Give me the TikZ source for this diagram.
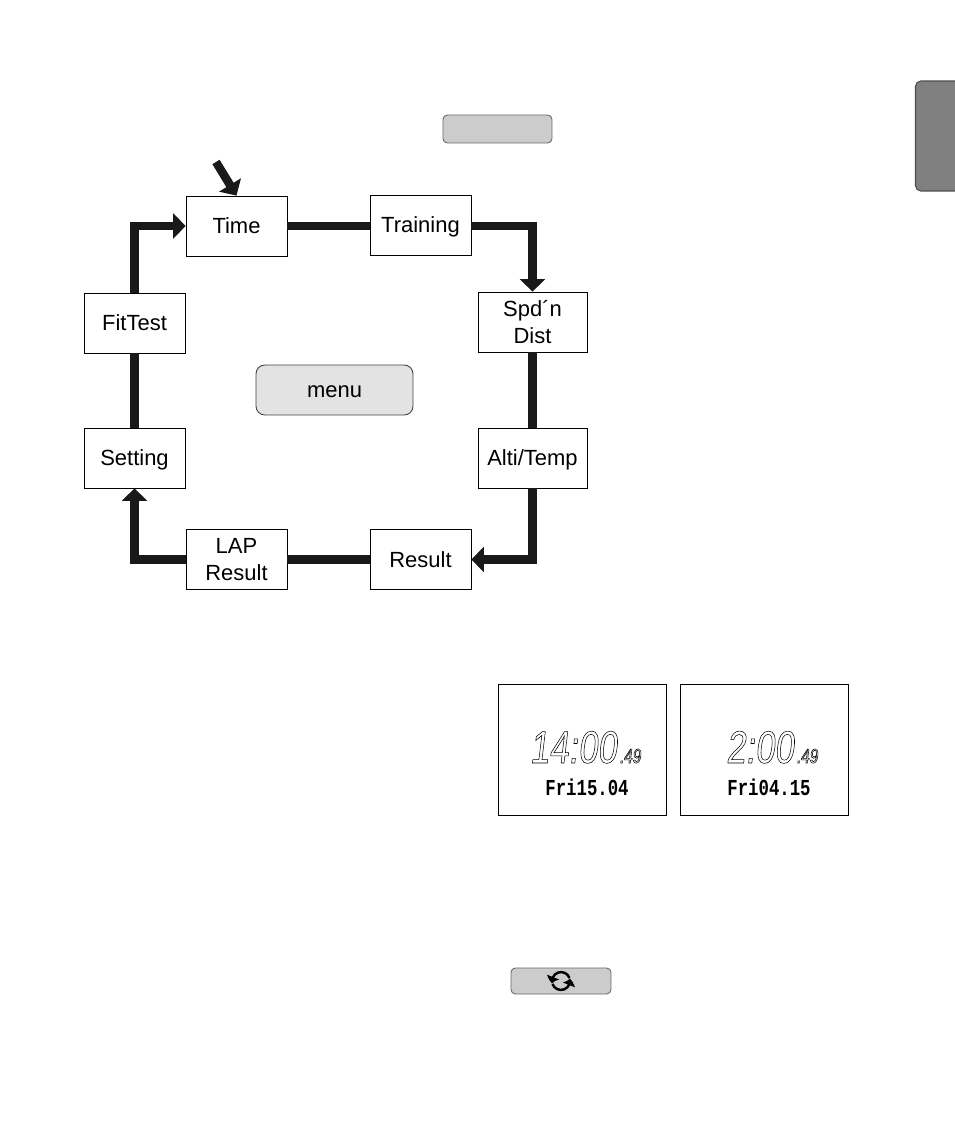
\documentclass[tikz,border=0pt]{standalone}
\usepackage{fontspec}
\setmainfont{Liberation Sans}
\newfontfamily\lcdbigfont[FakeStretch=.76,FakeSlant=.12]{Liberation Sans}
\newfontfamily\lcddotfont[FakeStretch=.76]{Liberation Mono}
\newcommand{\lcdoutline}[1]{\special{pdf:code q 1 Tr 0.3 w}#1\special{pdf:code Q}}
\usetikzlibrary{arrows.meta,positioning,calc,bending}
\definecolor{wcbarcol}{gray}{0.10}
\definecolor{wcbuttoncol}{gray}{0.80}
\definecolor{wcmenucol}{gray}{0.89}
\definecolor{wctabcol}{gray}{0.50}
\tikzset{
wcbox/.style={rectangle,draw,fill=white,line width=0.45pt,align=center,inner sep=0pt,minimum width=2.02cm,minimum height=1.20cm,font=\fontsize{12.5}{15}\selectfont,text height=9pt,text depth=0pt},
wctwo/.style={text height=,text depth=},
wcwide/.style={wcbox,minimum width=2.18cm},
wcmenubox/.style={rectangle,rounded corners=5pt,draw=black!75,fill=wcmenucol,line width=0.5pt,minimum width=3.14cm,minimum height=1.00cm,inner sep=0pt,font=\fontsize{12.5}{15}\selectfont,text height=9pt,text depth=0pt},
wcbutton/.style={rectangle,rounded corners=2.5pt,draw=black!60,fill=wcbuttoncol,line width=0.5pt,minimum width=2.18cm,minimum height=0.56cm,inner sep=0pt},
wctab/.style={rectangle,rounded corners=3pt,draw=black!70,fill=wctabcol,line width=0.6pt,minimum width=0.90cm,minimum height=2.20cm,inner sep=0pt},
wcscreen/.style={rectangle,draw,fill=white,line width=0.45pt,minimum width=3.36cm,minimum height=2.62cm,inner sep=0pt},
wcbig/.style={inner sep=0pt,font=\lcdbigfont\fontsize{26}{26}\selectfont},
wcsmall/.style={inner sep=0pt,font=\lcdbigfont\fontsize{11.5}{11.5}\selectfont},
wcdots/.style={inner sep=0pt,font=\lcddotfont\bfseries\fontsize{13}{13}\selectfont},
wcbar/.style={line width=0.17cm,draw=wcbarcol},
wcarr/.style={wcbar,-{Triangle[length=0.25cm,width=0.50cm]}},
wcicon/.style={line width=1.4pt,-{Triangle[length=0.13cm,width=0.25cm,bend]}}
}
\begin{document}
\begin{tikzpicture}[
x=0.02cm,
y=-0.02cm
]
\useasboundingbox (0,0) rectangle (954,1132);
\node[wctab] (tab) at (938,136) {};
\node[wcbutton] (topbutton) at (497.5,129) {};
\node[wcbox] (time) at (236.5,226) {Time};
\node[wcbox] (training) at (420.5,225) {Training};
\node[wcwide,wctwo] (speed) at (532.5,322) {Spd´n\\Dist};
\node[wcwide] (alti) at (532.5,458) {Alti/Temp};
\node[wcbox] (result) at (420.5,559.5) {Result};
\node[wcbox,wctwo] (lap) at (236.5,559.5) {LAP\\Result};
\node[wcbox] (setting) at (134.5,458) {Setting};
\node[wcbox] (fittest) at (134.5,323) {FitTest};
\node[wcmenubox] (menu) at (334.5,390) {menu};
\coordinate (timestart) at (216,162);
\draw[wcbar] (time.east)--(training.west|-time.east);
\draw[wcarr] (training.east|-time.east) -| (speed.north);
\draw[wcbar] (speed)--(alti);
\draw[wcarr] (alti.south) |- (result.east);
\draw[wcbar] (result)--(lap);
\draw[wcarr] (lap.west) -| (setting.south);
\draw[wcbar] (setting)--(fittest);
\draw[wcarr] (fittest.north) |- (time.west);
\draw[wcarr] (timestart)--(time.north);
\node[wcscreen] (screenleft) at (582,749.5) {};
\node[wcscreen] (screenright) at (764,749.5) {};
\node[wcbig,anchor=base east] (timeleft) at (617,763) {\lcdoutline{14:00}};
\node[wcsmall,anchor=base west] (secleft) at (619,763) {\lcdoutline{.49}};
\node[wcdots] (dateleft) at (587,787) {Fri15.04};
\node[wcbig,anchor=base east] (timeright) at (794,763) {\lcdoutline{2:00}};
\node[wcsmall,anchor=base west] (secright) at (796,763) {\lcdoutline{.49}};
\node[wcdots] (dateright) at (769,787) {Fri04.15};
\node[wcbutton,minimum width=2.00cm,minimum height=0.52cm] (cyclebutton) at (561,981) {};
\draw[wcicon] ($(cyclebutton)+(8.5,-3)$) arc (-20:-195:9);
\draw[wcicon] ($(cyclebutton)+(-8.5,3)$) arc (160:-15:9);
\end{tikzpicture}
\end{document}
